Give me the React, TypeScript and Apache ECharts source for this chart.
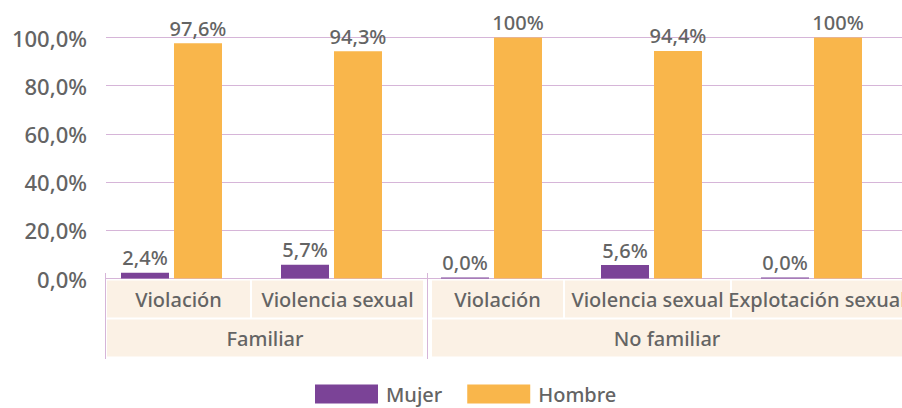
import React, { useEffect, useRef } from "react";
import * as echarts from "echarts";

// ---- data ----
const categories = ["Violación", "Violencia sexual", "Violación", "Violencia sexual", "Explotación sexual"];
const groups = ["Familiar", "Familiar", "No familiar", "No familiar", "No familiar"];
const mujer = [2.4, 5.7, 0, 5.6, 0];
const hombre = [97.6, 94.3, 100, 94.4, 100];
const seriesNames = ["Mujer", "Hombre"];
const yMin = 0;
const yMax = 100;
const yInterval = 20;

// ---- layout / style (not data) ----
const FONT = "'Noto Sans', 'Open Sans', sans-serif";
const WEIGHT = 500;
const TEXT = "#646464";
const GRIDC = "#D6B5D8";
const BOX = "#FBF1E5";
const PURPLE = "#7B4397";
const ORANGE = "#F9B64B";
const boxLayout = [
  { pre: 14, w: 143, post: 0 },
  { pre: 12, w: 171, post: 0 },
  { pre: 12, w: 131, post: 0 },
  { pre: 0, w: 165, post: 8 },
  { pre: 11, w: 170, post: 0 },
];
const groupLayout: Record<string, { pre: number; w: number }> = {
  Familiar: { pre: 187, w: 316 },
  "No familiar": { pre: 351, w: 470 },
};

const fmt = (v: number) => (v === 100 ? "100%" : v.toFixed(1).replace(".", ",") + "%");

export default function App() {
  const ref = useRef<HTMLDivElement>(null);
  useEffect(() => {
    document.body.style.margin = "0";
    if (!ref.current) return;
    const chart = echarts.init(ref.current, undefined, { renderer: "svg" });

    const rich1: any = {};
    boxLayout.forEach((b, i) => {
      rich1["b" + i] = {
        width: b.w, height: 37, lineHeight: 37, backgroundColor: BOX, align: "center",
        fontSize: 20, color: TEXT, fontFamily: FONT, fontWeight: WEIGHT,
      };
      if (b.pre) rich1["p" + i] = { width: b.pre, height: 37 };
      if (b.post) rich1["q" + i] = { width: b.post, height: 37 };
    });
    const rich2: any = {};
    Object.keys(groupLayout).forEach((g, i) => {
      rich2["g" + i] = {
        width: groupLayout[g].w, height: 37, lineHeight: 37, backgroundColor: BOX, align: "center",
        fontSize: 20, color: TEXT, fontFamily: FONT, fontWeight: WEIGHT,
      };
      rich2["s" + i] = { width: groupLayout[g].pre, height: 37 };
    });
    const groupNames = Object.keys(groupLayout);

    const top = 37.5;
    const bottom = 129.5;
    const labelStyle = {
      show: true, position: "top", distance: 5, fontSize: 20, color: TEXT,
      fontFamily: FONT, fontWeight: WEIGHT,
      formatter: (p: any) => fmt(p.value),
    };

    chart.setOption({
      animation: false,
      textStyle: { fontFamily: FONT },
      grid: [
        { left: 106, right: 0, top, bottom, outerBoundsMode: "none" },
        { left: 91.5, right: 10.5, top, bottom, outerBoundsMode: "none" },
      ],
      legend: {
        data: seriesNames,
        left: 315,
        top: 384,
        padding: 0,
        itemWidth: 63,
        itemHeight: 19,
        itemGap: 25,
        icon: "rect",
        textStyle: { fontSize: 20, color: TEXT, fontFamily: FONT, fontWeight: WEIGHT, padding: [0, 0, 0, 3] },
      },
      xAxis: [
        {
          type: "category", gridIndex: 0, data: categories,
          axisLine: { show: true, lineStyle: { color: GRIDC, width: 1 } },
          axisTick: { show: false }, axisLabel: { show: false },
        },
        {
          type: "category", gridIndex: 1, data: categories,
          axisLine: { show: false }, axisTick: { show: false },
          axisLabel: {
            interval: 0, margin: 2, verticalAlign: "top",
            formatter: (v: string, i: number) => {
              const b = boxLayout[i];
              return (b.pre ? `{p${i}|}` : "") + `{b${i}|${v}}` + (b.post ? `{q${i}|}` : "");
            },
            rich: rich1,
          },
        },
        {
          type: "category", gridIndex: 1, data: groups, position: "bottom", offset: 39,
          axisLine: { show: false }, axisTick: { show: false },
          axisLabel: {
            interval: 0, margin: 2, verticalAlign: "top",
            formatter: (v: string, i: number) => {
              if (i > 0 && groups[i - 1] === v) return "";
              const gi = groupNames.indexOf(v);
              return `{s${gi}|}{g${gi}|${v}}`;
            },
            rich: rich2,
          },
        },
      ],
      yAxis: [
        {
          type: "value", gridIndex: 0, min: yMin, max: yMax, interval: yInterval,
          axisLine: { show: false }, axisTick: { show: false },
          splitLine: { lineStyle: { color: GRIDC, width: 1 } },
          axisLabel: {
            margin: 19, fontSize: 22, color: TEXT, fontFamily: FONT, fontWeight: WEIGHT,
            formatter: (v: number) => v.toFixed(1).replace(".", ",") + "%",
          },
        },
        {
          type: "value", gridIndex: 1, min: yMin, max: yMax, interval: yInterval,
          show: false,
        },
      ],
      series: [
        {
          name: seriesNames[0], type: "bar", xAxisIndex: 1, yAxisIndex: 1, data: mujer,
          barWidth: 48, barGap: "10.4%", barMinHeight: 1,
          itemStyle: { color: PURPLE },
          label: labelStyle,
        },
        {
          name: seriesNames[1], type: "bar", xAxisIndex: 1, yAxisIndex: 1, data: hombre,
          barWidth: 48, barGap: "10.4%",
          itemStyle: { color: ORANGE },
          label: labelStyle,
        },
      ],
      graphic: [
        { type: "line", shape: { x1: 105.5, y1: 273, x2: 105.5, y2: 359 }, style: { stroke: GRIDC, lineWidth: 1 } },
        { type: "line", shape: { x1: 427.5, y1: 273, x2: 427.5, y2: 359 }, style: { stroke: GRIDC, lineWidth: 1 } },
      ],
    });
    return () => chart.dispose();
  }, []);
  return <div ref={ref} style={{ width: 902, height: 408 }} />;
}
